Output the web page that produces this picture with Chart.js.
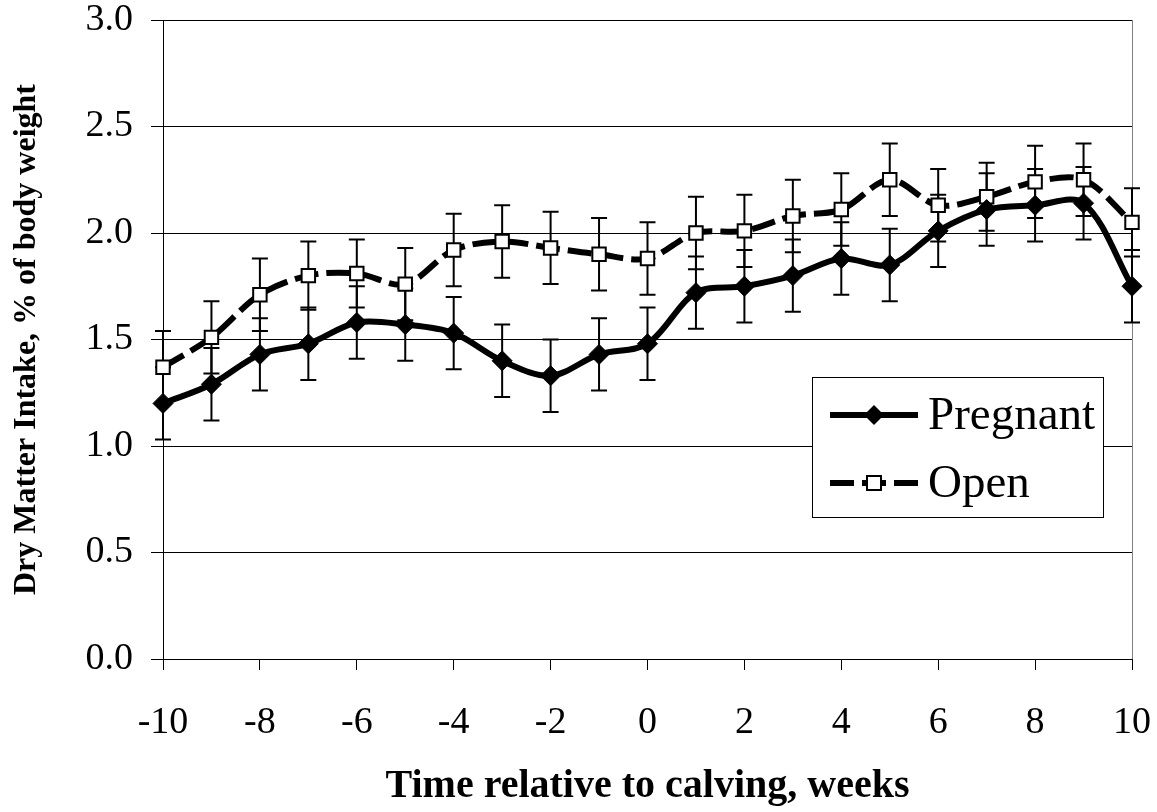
<!DOCTYPE html>
<html>
<head>
<meta charset="utf-8">
<title>Dry matter intake</title>
<script src="https://cdn.jsdelivr.net/npm/chart.js@4.4.1/dist/chart.umd.min.js"></script>
<style>
  html, body { margin: 0; padding: 0; background: #fff; }
</style>
</head>
<body>
<canvas id="chart" width="1157" height="812"></canvas>
<script>
// Data
const weeks = [-10, -9, -8, -7, -6, -5, -4, -3, -2, -1, 0, 1, 2, 3, 4, 5, 6, 7, 8, 9, 10];
const pregnant = [1.20, 1.29, 1.43, 1.48, 1.58, 1.57, 1.53, 1.40, 1.33, 1.43, 1.48, 1.72, 1.75, 1.80, 1.88, 1.85, 2.01, 2.11, 2.13, 2.14, 1.75];
const pregnantSE = [0.17, 0.17, 0.17, 0.17, 0.17, 0.17, 0.17, 0.17, 0.17, 0.17, 0.17, 0.17, 0.17, 0.17, 0.17, 0.17, 0.17, 0.17, 0.17, 0.17, 0.17];
const open = [1.37, 1.51, 1.71, 1.80, 1.81, 1.76, 1.92, 1.96, 1.93, 1.90, 1.88, 2.00, 2.01, 2.08, 2.11, 2.25, 2.13, 2.17, 2.24, 2.25, 2.05];
const openSE = [0.17, 0.17, 0.17, 0.16, 0.16, 0.17, 0.17, 0.17, 0.17, 0.17, 0.17, 0.17, 0.17, 0.17, 0.17, 0.17, 0.17, 0.16, 0.17, 0.17, 0.16];
const xTicks = [-10, -8, -6, -4, -2, 0, 2, 4, 6, 8, 10];
const yTicks = [0, 0.5, 1.0, 1.5, 2.0, 2.5, 3.0];

const serif = '"Liberation Serif", "Times New Roman", serif';
const errorSets = [pregnantSE, openSE];

// vertical error bars with caps, drawn under the lines
const errorBars = {
  id: 'errorBars',
  beforeDatasetsDraw(chart) {
    const ctx = chart.ctx;
    const y = chart.scales.y;
    const area = chart.chartArea;
    ctx.save();
    // right edge of plot area
    ctx.strokeStyle = '#808080';
    ctx.lineWidth = 1;
    ctx.beginPath();
    ctx.moveTo(area.right + 0.5, area.top);
    ctx.lineTo(area.right + 0.5, area.bottom);
    ctx.stroke();

    ctx.strokeStyle = '#000';
    ctx.lineWidth = 2;
    chart.data.datasets.forEach((ds, di) => {
      const meta = chart.getDatasetMeta(di);
      errorSets[di].forEach((e, i) => {
        const px = meta.data[i].x;
        const v = ds.data[i].y;
        const top = y.getPixelForValue(v + e);
        const bot = y.getPixelForValue(v - e);
        ctx.beginPath();
        ctx.moveTo(px, top); ctx.lineTo(px, bot);
        ctx.moveTo(px - 8, top); ctx.lineTo(px + 8, top);
        ctx.moveTo(px - 8, bot); ctx.lineTo(px + 8, bot);
        ctx.stroke();
      });
    });
    ctx.restore();
  }
};

// boxed legend inside the plot
const boxLegend = {
  id: 'boxLegend',
  afterDraw(chart) {
    const ctx = chart.ctx;
    const x0 = 812, y0 = 377, w = 291, h = 140;
    ctx.save();
    ctx.fillStyle = '#fff';
    ctx.fillRect(x0, y0, w, h);
    ctx.strokeStyle = '#000';
    ctx.lineWidth = 1;
    ctx.strokeRect(x0 + 0.5, y0 + 0.5, w, h);

    const rows = [y0 + 38, y0 + 106];
    const lx1 = x0 + 18, lx2 = x0 + 106, mx = (lx1 + lx2) / 2;

    // Pregnant
    ctx.lineWidth = 6;
    ctx.beginPath();
    ctx.moveTo(lx1, rows[0]); ctx.lineTo(lx2, rows[0]);
    ctx.stroke();
    ctx.fillStyle = '#000';
    ctx.beginPath();
    ctx.moveTo(mx, rows[0] - 10); ctx.lineTo(mx + 10, rows[0]);
    ctx.lineTo(mx, rows[0] + 10); ctx.lineTo(mx - 10, rows[0]);
    ctx.closePath();
    ctx.fill();

    // Open
    ctx.setLineDash([24, 8]);
    ctx.beginPath();
    ctx.moveTo(lx1, rows[1]); ctx.lineTo(lx2, rows[1]);
    ctx.stroke();
    ctx.setLineDash([]);
    ctx.fillStyle = '#fff';
    ctx.lineWidth = 2;
    ctx.fillRect(mx - 7, rows[1] - 7, 14, 14);
    ctx.strokeRect(mx - 7, rows[1] - 7, 14, 14);

    ctx.fillStyle = '#000';
    ctx.font = '47px ' + serif;
    ctx.textBaseline = 'middle';
    ctx.textAlign = 'left';
    ctx.fillText('Pregnant', x0 + 116, rows[0] + 2);
    ctx.fillText('Open', x0 + 116, rows[1] + 2);
    ctx.restore();
  }
};

new Chart(document.getElementById('chart'), {
  type: 'line',
  data: {
    datasets: [
      {
        label: 'Pregnant',
        data: weeks.map((w, i) => ({ x: w, y: pregnant[i] })),
        borderColor: '#000',
        borderWidth: 6,
        tension: 0.33,
        pointStyle: 'rectRot',
        pointRadius: 10,
        pointBackgroundColor: '#000',
        pointBorderColor: '#000',
        pointBorderWidth: 1,
        clip: false
      },
      {
        label: 'Open',
        data: weeks.map((w, i) => ({ x: w, y: open[i] })),
        borderColor: '#000',
        borderWidth: 6,
        borderDash: [24, 8],
        tension: 0.33,
        pointStyle: 'rect',
        pointRadius: 9.5,
        pointBackgroundColor: '#fff',
        pointBorderColor: '#000',
        pointBorderWidth: 2,
        clip: false
      }
    ]
  },
  options: {
    responsive: false,
    animation: false,
    events: [],
    layout: { padding: { top: 20, right: 25, left: 0, bottom: 0 } },
    plugins: {
      legend: { display: false },
      tooltip: { enabled: false }
    },
    scales: {
      x: {
        type: 'linear',
        min: -10,
        max: 10,
        afterBuildTicks: s => { s.ticks = xTicks.map(v => ({ value: v })); },
        afterFit: s => { s.height = 153; s.paddingLeft = 0; s.paddingRight = 0; },
        grid: { drawOnChartArea: false, color: '#000', tickLength: 11, lineWidth: 1 },
        border: { color: '#000', width: 1 },
        ticks: {
          color: '#000',
          font: { family: serif, size: 38 },
          padding: 30,
          maxRotation: 0,
          callback: v => String(v)
        },
        title: {
          display: true,
          text: 'Time relative to calving, weeks',
          color: '#000',
          font: { family: serif, size: 40, weight: 'bold' },
          padding: { top: 0, bottom: 1 }
        }
      },
      y: {
        min: 0,
        max: 3,
        afterBuildTicks: s => { s.ticks = yTicks.map(v => ({ value: v })); },
        afterFit: s => { s.width = 163; s.paddingTop = 0; s.paddingBottom = 0; },
        grid: { color: '#000', tickLength: 12, lineWidth: 1 },
        border: { color: '#000', width: 1 },
        ticks: {
          color: '#000',
          font: { family: serif, size: 38 },
          padding: 18,
          callback: v => v.toFixed(1)
        },
        title: {
          display: true,
          text: 'Dry Matter Intake, % of body weight',
          color: '#000',
          font: { family: serif, size: 32, weight: 'bold' },
          padding: { top: 8, bottom: 0 }
        }
      }
    }
  },
  plugins: [errorBars, boxLegend]
});
</script>
</body>
</html>
